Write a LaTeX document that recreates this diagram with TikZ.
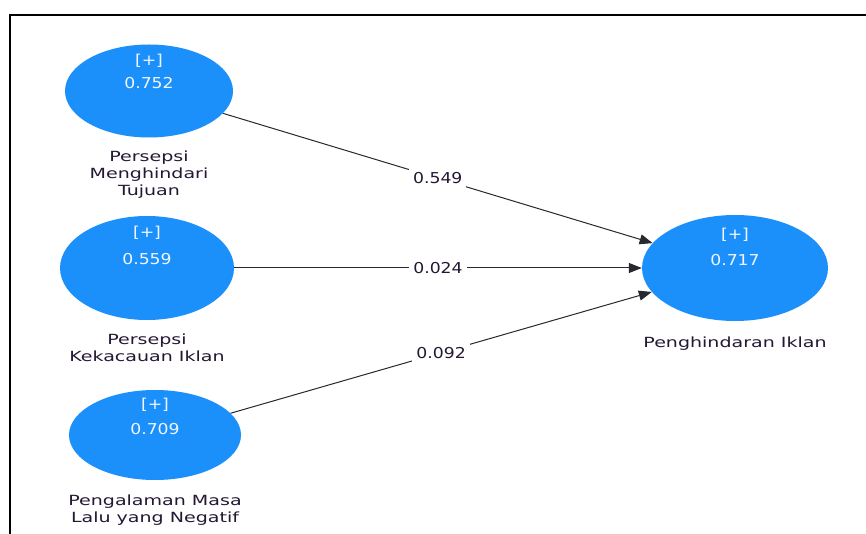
\documentclass[tikz,border=0pt]{standalone}
\usepackage{fontspec}
\usetikzlibrary{positioning, shapes.geometric, arrows.meta}
\usepackage{xcolor}

\newfontfamily\valfont[FakeStretch=1.15]{DejaVu Sans}
\newfontfamily\namefont[FakeStretch=1.36]{DejaVu Sans}

\definecolor{lvblue}{RGB}{28,144,250}
\definecolor{lvtext}{RGB}{240,246,255}
\definecolor{nameink}{RGB}{36,24,52}
\definecolor{pathink}{RGB}{40,40,48}

\tikzset{
	latent/.style={ellipse, fill=lvblue, draw=none, inner sep=0pt},
	plus/.style={text=lvtext, font=\valfont\fontsize{15}{17}\selectfont, inner sep=0pt},
	rsq/.style={text=lvtext, font=\valfont\fontsize{15}{17}\selectfont, inner sep=0pt},
	lvname/.style={text=nameink, font=\namefont\fontsize{14}{17}\selectfont, align=center, inner sep=0pt},
	coef/.style={text=nameink, font=\valfont\fontsize{15}{17}\selectfont, fill=white, inner sep=4pt, midway},
	path/.style={draw=pathink, line width=1pt, -{Triangle[length=13pt, width=10pt]}}
}

\begin{document}
\begin{tikzpicture}[x=1pt, y=-1pt]
	\useasboundingbox (0,0) rectangle (866,534);
	\fill[white] (0,0) rectangle (866,534);
	
	% frame
	\draw[line width=2.5pt] (10,534) -- (10,15) -- (866,15);
	
	% First latent variable
	\node[latent, minimum width=168pt, minimum height=93pt] (pmt) at (149,91) {};
	\node[plus] at ([yshift=-16pt]pmt.north) {[+]};
	\node[rsq] at ([yshift=-39pt]pmt.north) {0.752};
	\node[lvname, below=13pt of pmt] (pmtname) {Persepsi\\Menghindari\\Tujuan};
	
	% Second latent variable
	\node[latent, minimum width=174pt, minimum height=104pt] (pki) at (147,268) {};
	\node[plus] at ([yshift=-17pt]pki.north) {[+]};
	\node[rsq] at ([yshift=-43pt]pki.north) {0.559};
	\node[lvname, below=13pt of pki] (pkiname) {Persepsi\\Kekacauan Iklan};
	
	% Third latent variable
	\node[latent, minimum width=172pt, minimum height=90pt] (pmln) at (155,435) {};
	\node[plus] at ([yshift=-15pt]pmln.north) {[+]};
	\node[rsq] at ([yshift=-39pt]pmln.north) {0.709};
	\node[lvname, below=14pt of pmln] (pmlnname) {Pengalaman Masa\\Lalu yang Negatif};
	
	% Target latent variable
	\node[latent, minimum width=186pt, minimum height=106pt] (pi) at (735,268) {};
	\node[plus] at ([yshift=-20pt]pi.north) {[+]};
	\node[rsq] at ([yshift=-45pt]pi.north) {0.717};
	\node[lvname, below=15pt of pi] (piname) {Penghindaran Iklan};
	
	% Paths
	\draw[path] (pmt) -- node[coef] {0.549} (pi);
	\draw[path] (pki) -- node[coef] {0.024} (pi);
	\draw[path] (pmln) -- node[coef] {0.092} (pi);
	
\end{tikzpicture}
\end{document}
